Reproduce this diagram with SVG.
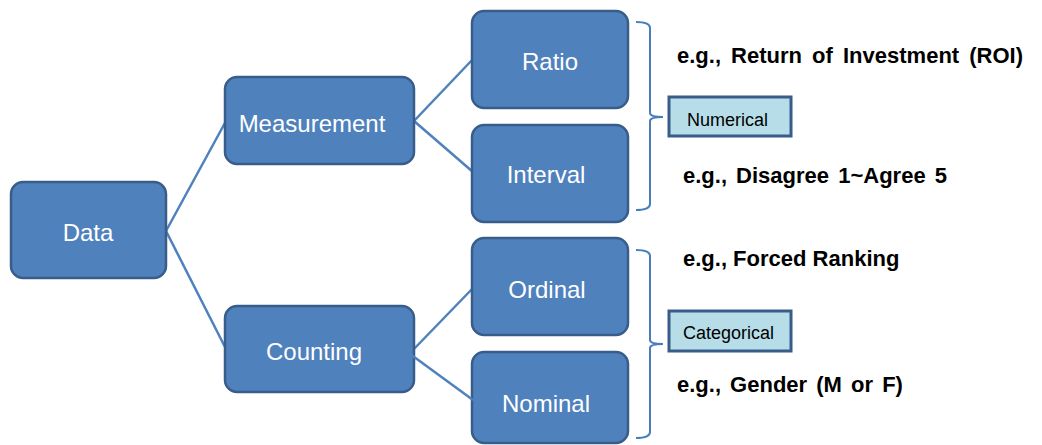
<svg xmlns="http://www.w3.org/2000/svg" width="1042" height="445" viewBox="0 0 1042 445">
<style>
.box{fill:#4F81BD;stroke:#385D8A;stroke-width:2.5}
.nt{font-family:"Liberation Sans",Arial,sans-serif;font-size:24px;fill:#FFFFFF;text-anchor:middle}
.conn{stroke:#4F81BD;stroke-width:2.5;fill:none}
.brace{stroke:#4A7EBB;stroke-width:2;fill:none}
.lbl{fill:#B7DEE8;stroke:#385D8A;stroke-width:3}
.lt{font-family:"Liberation Sans",Arial,sans-serif;font-size:18px;fill:#000000}
.ex{font-family:"Liberation Sans",Arial,sans-serif;font-size:22px;font-weight:bold;fill:#000000}
</style>
<rect width="1042" height="445" fill="#FFFFFF"/>
<g id="connectors">
<line class="conn" x1="166" y1="231" x2="226" y2="121"/>
<line class="conn" x1="166" y1="231" x2="226" y2="349"/>
<line class="conn" x1="414" y1="121" x2="473" y2="59"/>
<line class="conn" x1="414" y1="121" x2="473" y2="172"/>
<line class="conn" x1="413" y1="350" x2="473" y2="288"/>
</g>
<g id="node-data"><rect class="box" x="11" y="182" width="155" height="96" rx="12"/><text class="nt" x="88" y="241">Data</text></g>
<g id="node-measurement"><rect class="box" x="225" y="77" width="189" height="87" rx="12"/><text class="nt" x="312" y="132">Measurement</text></g>
<g id="node-counting"><rect class="box" x="225" y="306" width="189" height="86" rx="12"/><text class="nt" x="314" y="360">Counting</text></g>
<g id="node-ratio"><rect class="box" x="472" y="11" width="156" height="97" rx="12"/><text class="nt" x="550" y="70">Ratio</text></g>
<g id="node-interval"><rect class="box" x="472" y="125" width="156" height="97" rx="12"/><text class="nt" x="546" y="183">Interval</text></g>
<g id="node-ordinal"><rect class="box" x="472" y="238" width="156" height="97" rx="12"/><text class="nt" x="547" y="298">Ordinal</text></g>
<g id="node-nominal"><rect class="box" x="472" y="352" width="156" height="91" rx="12"/><text class="nt" x="546" y="412">Nominal</text></g>
<g id="connector-nominal">
<line class="conn" x1="395" y1="343" x2="473" y2="400"/>
</g>
<g id="brace-numerical">
<path class="brace" d="M636,22 Q650,22 650,28 V113 Q650,117 663,117 Q650,117 650,121 V204 Q650,210 636,210"/>
</g>
<g id="brace-categorical">
<path class="brace" d="M636,250 Q650,250 650,256 V340 Q650,344 663,344 Q650,344 650,348 V432 Q650,438 636,438"/>
</g>
<g id="label-numerical"><rect class="lbl" x="669" y="97" width="122" height="39"/><text class="lt" x="687" y="126">Numerical</text></g>
<g id="label-categorical"><rect class="lbl" x="669" y="311" width="122" height="40"/><text class="lt" x="683" y="339">Categorical</text></g>
<g id="examples">
<text class="ex" x="677" y="63" word-spacing="4">e.g., Return of Investment (ROI)</text>
<text class="ex" x="683" y="183" word-spacing="3">e.g., Disagree 1~Agree 5</text>
<text class="ex" x="683" y="266">e.g., Forced Ranking</text>
<text class="ex" x="677" y="392" word-spacing="3">e.g., Gender (M or F)</text>
</g>
</svg>
